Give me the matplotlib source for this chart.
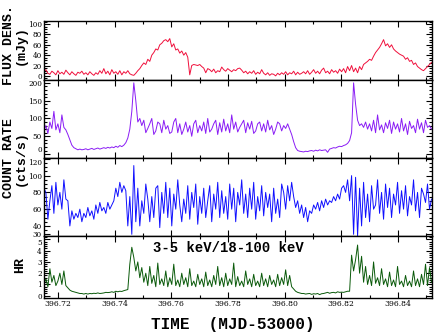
import numpy as np
import matplotlib
matplotlib.use("Agg")
import matplotlib.pyplot as plt
from matplotlib.ticker import MultipleLocator, FixedLocator

# light curve bins (MJD-53000), one bin every ~61 s
t_start = 396.71506
t_bin = 0.000705

flux = [8, 12, 5, 3, 9, 6, 2, 10, 4, 7,
        3, 11, 6, 2, 8, 4, 1, 7, 5, 9,
        3, 6, 2, 8, 4, 1, 6, 3, 10, 5,
        14, 4, 9, 2, 12, 5, 8, 3, 10, 2,
        8, 5, 10, 4, 2, 1, 5, 10, 14, 20,
        25, 22, 32, 28, 40, 45, 52, 50, 60, 63,
        68, 70, 66, 72, 56, 62, 50, 52, 44, 48,
        40, 45, 36, 2, 20, 22, 21, 20, 22, 18,
        15, 6, 14, 12, 8, 13, 6, 10, 8, 17,
        12, 9, 14, 11, 8, 12, 10, 14, 15, 11,
        6, 9, 4, 8, 5, 10, 3, 7, 4, 12,
        5, 2, 6, 1, 4, 3, 0, 5, 2, 6,
        3, 8, 2, 6, 4, 9, 2, 7, 3, 5,
        8, 4, 10, 3, 7, 12, 5, 9, 4, 11,
        15, 6, 9, 4, 12, 7, 10, 5, 13, 8,
        14, 6, 18, 10, 20, 8, 15, 6, 18, 12,
        22, 25, 28, 32, 30, 38, 45, 50, 55, 62,
        70, 58, 62, 55, 60, 52, 48, 45, 42, 40,
        38, 32, 35, 28, 30, 22, 25, 18, 15, 12,
        10, 14, 18, 22, 26]

rate_a = [65, 80, 58, 90, 72, 120, 68, 85, 60, 110,
          75, 68, 55, 40, 25, 18, 15, 12, 14, 12,
          13, 15, 12, 14, 16, 13, 15, 17, 14, 16,
          18, 16, 19, 17, 20, 18, 22, 19, 24, 21,
          25, 32, 45, 70, 120, 200, 150, 90, 100, 80,
          95, 60, 72, 85, 100, 55, 65, 90, 85, 60,
          95, 70, 80, 58, 62, 90, 100, 60, 85, 55,
          70, 90, 62, 80, 50, 85, 95, 60, 80, 65,
          90, 58, 100, 62, 70, 85, 95, 55, 88, 62,
          98, 65, 85, 60, 110, 70, 90, 62, 75, 85,
          95, 60, 88, 70, 92, 58, 65, 85, 90, 65,
          85, 62, 95, 68, 80, 55, 70, 90, 85, 65,
          80, 72, 85, 70, 55, 35, 18, 10, 8, 7,
          6, 8, 7, 9, 10, 8, 11, 9, 12, 10,
          11, 12, 5, 14, 16, 18, 17, 20, 22, 21,
          24, 26, 30, 38, 60, 200, 140, 95, 80, 85,
          75, 90, 70, 85, 65, 95, 60, 110, 68, 82,
          60, 88, 72, 95, 58, 90, 70, 85, 62, 100,
          65, 85, 55, 92, 72, 80, 60, 98, 70, 88,
          60, 95, 75, 80, 70]

rate_b = [85, 80, 48, 70, 88, 55, 92, 65, 80, 60,
          95, 72, 70, 40, 58, 48, 55, 50, 60, 45,
          55, 50, 62, 52, 58, 48, 65, 55, 68, 58,
          62, 55, 68, 60, 65, 70, 85, 75, 92, 80,
          88, 82, 40, 75, 30, 112, 45, 85, 40, 70,
          55, 90, 72, 45, 75, 50, 85, 88, 38, 80,
          55, 92, 50, 85, 40, 78, 60, 95, 65, 45,
          72, 55, 88, 48, 80, 62, 90, 42, 75, 55,
          85, 50, 70, 88, 45, 78, 60, 92, 50, 82,
          55, 75, 48, 90, 60, 85, 45, 80, 65, 95,
          55, 78, 50, 85, 60, 92, 48, 75, 58, 88,
          52, 80, 62, 78, 45, 85, 55, 72, 50, 90,
          80, 60, 88, 70, 92, 75, 62, 70, 55, 65,
          50, 62, 45, 58, 55, 65, 60, 68, 58, 70,
          62, 72, 65, 70, 68, 75, 70, 78, 72, 85,
          88, 80, 95, 70, 100, 30, 98, 28, 85, 40,
          92, 50, 78, 45, 88, 60, 65, 95, 55, 80,
          48, 90, 62, 85, 50, 78, 65, 92, 55, 82,
          60, 88, 52, 75, 65, 95, 58, 80, 50, 85,
          78, 68, 90, 60, 72]

hr = [1.0, 1.5, 0.8, 2.4, 1.2, 1.8, 0.9, 1.3, 2.0, 1.0,
      2.2, 0.9, 0.7, 0.5, 0.4, 0.35, 0.3, 0.25, 0.2, 0.2,
      0.15, 0.2, 0.15, 0.2, 0.18, 0.22, 0.2, 0.25, 0.2, 0.22,
      0.25, 0.3, 0.28, 0.3, 0.35, 0.3, 0.4, 0.35, 0.4, 0.38,
      0.45, 0.5, 0.55, 2.8, 4.3, 3.4, 2.2, 3.0, 1.6, 2.5,
      1.2, 2.0, 0.9, 2.6, 1.1, 1.8, 0.8, 2.9, 1.0, 1.5,
      0.9, 2.2, 0.8, 1.6, 1.0, 2.8, 0.9, 1.4, 0.8, 2.0,
      1.0, 1.6, 0.8, 2.4, 0.9, 1.3, 0.8, 1.9, 1.0, 1.5,
      0.8, 2.1, 0.9, 1.4, 0.8, 1.8, 1.0, 2.6, 0.9, 1.6,
      0.8, 2.0, 0.9, 1.5, 1.0, 2.9, 0.8, 1.7, 0.9, 1.3,
      0.8, 2.2, 1.0, 1.5, 0.8, 1.9, 0.9, 1.3, 0.8, 2.0,
      0.9, 1.5, 0.8, 1.8, 1.0, 1.4, 0.8, 1.9, 0.9, 1.6,
      1.0, 2.3, 0.9, 1.8, 0.8, 0.6, 0.4, 0.3, 0.25, 0.2,
      0.2, 0.15, 0.18, 0.2, 0.12, 0.18, 0.15, 0.2, 0.1, 0.18,
      0.2, 0.25, 0.3, 0.22, 0.28, 0.3, 0.25, 0.35, 0.3, 0.32,
      0.3, 0.35, 0.4, 0.4, 3.6, 2.2, 3.2, 4.5, 2.0, 3.5,
      1.2, 2.6, 1.0, 1.8, 0.9, 3.0, 1.1, 1.6, 0.9, 2.4,
      1.0, 1.5, 0.8, 2.1, 0.9, 1.4, 0.8, 2.6, 1.0, 1.3,
      0.8, 1.8, 0.9, 1.3, 0.8, 2.2, 0.9, 1.5, 0.8, 1.9,
      1.0, 2.8, 0.9, 2.5, 1.2]

xticks = [396.72, 396.74, 396.76, 396.78, 396.80, 396.82, 396.84]


def main():
    t = t_start + t_bin * np.arange(len(flux))

    W, H = 436, 333
    fig = plt.figure(figsize=(W / 100, H / 100), dpi=100)

    def rect(top, bottom):
        return [44 / W, 1 - bottom / H, 388 / W, (bottom - top) / H]

    ax1 = fig.add_axes(rect(21, 80))
    ax2 = fig.add_axes(rect(80, 158))
    ax3 = fig.add_axes(rect(158, 236))
    ax4 = fig.add_axes(rect(236, 298))

    ax1.plot(t, flux, color="#f0103c", lw=0.7)
    ax2.plot(t, rate_a, color="#8a1cf5", lw=0.7)
    ax3.plot(t, rate_b, color="#1010ff", lw=0.7)
    ax4.plot(t, hr, color="#0a5a0a", lw=0.7)

    ax1.set_ylim(-8, 106)
    ax1.set_yticks([0, 20, 40, 60, 80, 100])
    ax1.yaxis.set_minor_locator(MultipleLocator(5))
    ax2.set_ylim(-11, 208)
    ax2.set_yticks([0, 50, 100, 150, 200])
    ax2.yaxis.set_minor_locator(MultipleLocator(10))
    ax3.set_ylim(28, 121)
    ax3.set_yticks([30, 40, 60, 80, 100, 120])
    ax3.yaxis.set_minor_locator(MultipleLocator(5))
    ax4.set_ylim(-0.2, 5.3)
    ax4.set_yticks([0, 1, 2, 3, 4, 5])
    ax4.yaxis.set_minor_locator(MultipleLocator(0.2))

    for ax in [ax1, ax2, ax3, ax4]:
        ax.set_xlim(396.7151, 396.852)
        ax.xaxis.set_major_locator(FixedLocator(xticks))
        ax.xaxis.set_minor_locator(MultipleLocator(0.01))
        ax.tick_params(which="both", direction="in", top=True, right=True,
                       labelsize=5.2, width=0.8, pad=1.5)
        ax.tick_params(which="major", length=4)
        ax.tick_params(which="minor", length=2.5)
        for lab in ax.get_yticklabels():
            lab.set_family("DejaVu Serif")
        for s in ax.spines.values():
            s.set_linewidth(1.0)
        if ax is not ax4:
            ax.tick_params(labelbottom=False)

    # labels at the panel joins sit a little inside their own panel
    ax2.get_yticklabels()[0].set_va("bottom")
    ax3.get_yticklabels()[-1].set_va("top")
    ax4.get_yticklabels()[-1].set_va("top")

    ax4.set_xticklabels(["%.2f" % v for v in xticks], family="DejaVu Serif", fontsize=5.5)

    lab_font = dict(family="Liberation Mono", weight="bold", fontsize=9.5)
    fig.text(15 / W, 1 - 45 / H, "FLUX DENS.\n(mJy)", rotation=90,
             ha="center", va="center", linespacing=1.0, **lab_font)
    fig.text(15 / W, 1 - 158 / H, "COUNT RATE\n(cts/s)", rotation=90,
             ha="center", va="center", linespacing=1.0, **lab_font)
    fig.text(20 / W, 1 - 265 / H, "HR", rotation=90,
             ha="center", va="center", **lab_font)

    ax4.text(0.474, 0.80, "3-5 keV/18-100 keV", transform=ax4.transAxes,
             ha="center", va="center", family="Liberation Mono", weight="bold",
             fontsize=10)

    fig.text(233 / W, 1 - 325 / H, "TIME  (MJD-53000)", ha="center", va="center",
             family="Liberation Mono", weight="bold", fontsize=11.5)

    fig.savefig("out.png", dpi=100)


if __name__ == "__main__":
    main()
